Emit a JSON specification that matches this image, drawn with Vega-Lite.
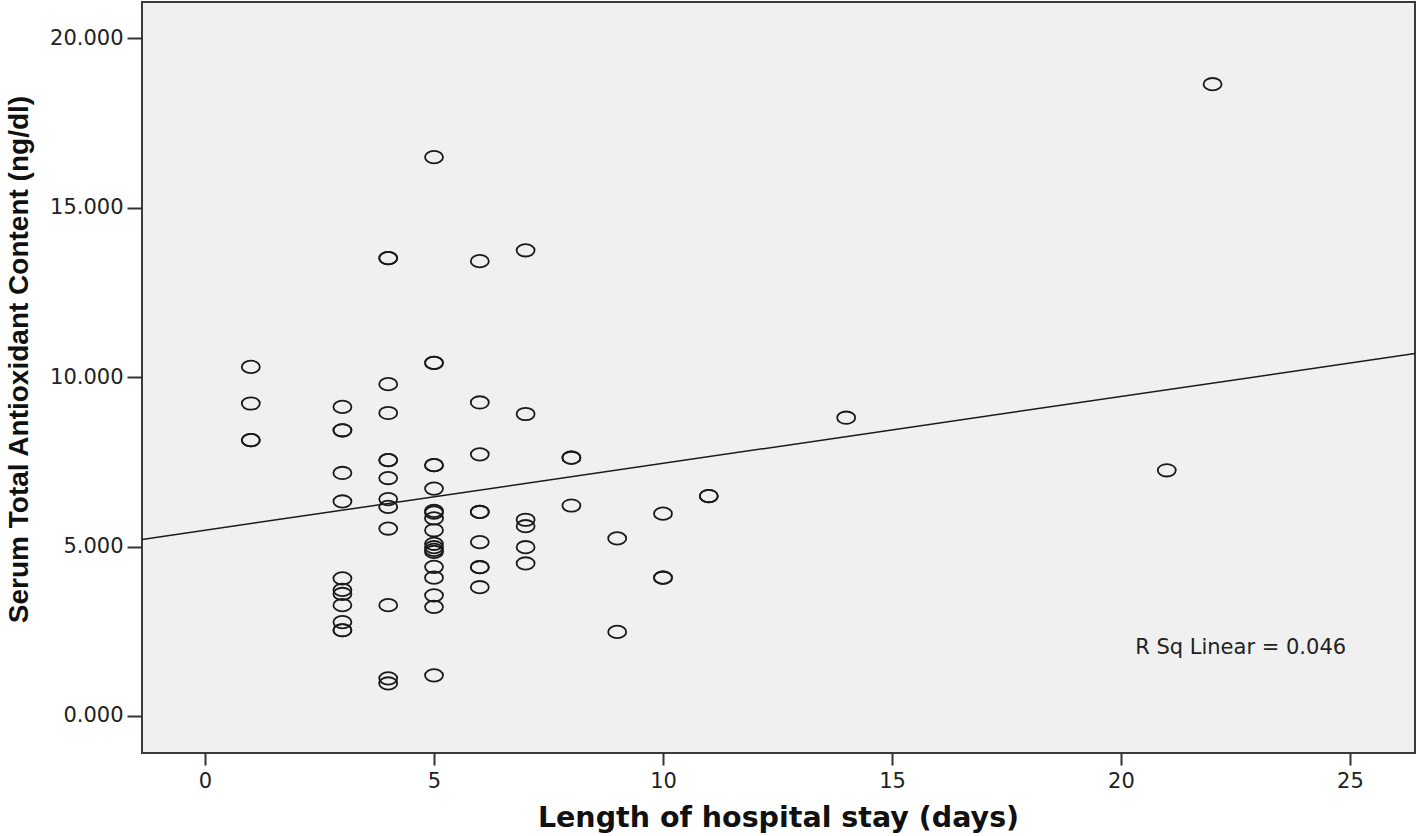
{
  "$schema": "https://vega.github.io/schema/vega-lite/v6.json",
  "width": 1273,
  "height": 751,
  "autosize": {"type": "none"},
  "padding": {"left": 142, "top": 2, "right": 3, "bottom": 83},
  "background": "white",
  "config": {
    "view": {"fill": "#f0f0f0", "stroke": "#3a3a3a", "strokeWidth": 2},
    "axis": {
      "domain": false,
      "grid": false,
      "tickColor": "#333333",
      "tickWidth": 2,
      "labelFont": "DejaVu Sans",
      "labelFontSize": 21,
      "labelColor": "#222222",
      "titleColor": "#111111"
    }
  },
  "data": {
    "values": [
      {"stay": 1, "antioxidant": 10.30}, {"stay": 1, "antioxidant": 9.22}, {"stay": 1, "antioxidant": 8.14}, {"stay": 1, "antioxidant": 8.14},
      {"stay": 3, "antioxidant": 9.12}, {"stay": 3, "antioxidant": 8.43}, {"stay": 3, "antioxidant": 8.43}, {"stay": 3, "antioxidant": 7.17},
      {"stay": 3, "antioxidant": 6.33}, {"stay": 3, "antioxidant": 4.06}, {"stay": 3, "antioxidant": 3.72}, {"stay": 3, "antioxidant": 3.60},
      {"stay": 3, "antioxidant": 3.27}, {"stay": 3, "antioxidant": 2.77}, {"stay": 3, "antioxidant": 2.53}, {"stay": 3, "antioxidant": 2.53},
      {"stay": 4, "antioxidant": 13.51}, {"stay": 4, "antioxidant": 13.51}, {"stay": 4, "antioxidant": 9.79}, {"stay": 4, "antioxidant": 8.94},
      {"stay": 4, "antioxidant": 7.55}, {"stay": 4, "antioxidant": 7.55}, {"stay": 4, "antioxidant": 7.02}, {"stay": 4, "antioxidant": 6.40},
      {"stay": 4, "antioxidant": 6.17}, {"stay": 4, "antioxidant": 5.53}, {"stay": 4, "antioxidant": 3.27}, {"stay": 4, "antioxidant": 1.11},
      {"stay": 4, "antioxidant": 0.96},
      {"stay": 5, "antioxidant": 16.49}, {"stay": 5, "antioxidant": 10.42}, {"stay": 5, "antioxidant": 10.42}, {"stay": 5, "antioxidant": 7.40},
      {"stay": 5, "antioxidant": 7.40}, {"stay": 5, "antioxidant": 6.71}, {"stay": 5, "antioxidant": 6.05}, {"stay": 5, "antioxidant": 6.00},
      {"stay": 5, "antioxidant": 5.83}, {"stay": 5, "antioxidant": 5.48}, {"stay": 5, "antioxidant": 5.08}, {"stay": 5, "antioxidant": 4.98},
      {"stay": 5, "antioxidant": 4.90}, {"stay": 5, "antioxidant": 4.84}, {"stay": 5, "antioxidant": 4.40}, {"stay": 5, "antioxidant": 4.08},
      {"stay": 5, "antioxidant": 3.56}, {"stay": 5, "antioxidant": 3.22}, {"stay": 5, "antioxidant": 1.20},
      {"stay": 6, "antioxidant": 13.42}, {"stay": 6, "antioxidant": 9.25}, {"stay": 6, "antioxidant": 7.72}, {"stay": 6, "antioxidant": 6.02},
      {"stay": 6, "antioxidant": 6.02}, {"stay": 6, "antioxidant": 5.13}, {"stay": 6, "antioxidant": 4.39}, {"stay": 6, "antioxidant": 4.39},
      {"stay": 6, "antioxidant": 3.80},
      {"stay": 7, "antioxidant": 13.74}, {"stay": 7, "antioxidant": 8.91}, {"stay": 7, "antioxidant": 5.79}, {"stay": 7, "antioxidant": 5.60},
      {"stay": 7, "antioxidant": 4.98}, {"stay": 7, "antioxidant": 4.50},
      {"stay": 8, "antioxidant": 7.62}, {"stay": 8, "antioxidant": 7.62}, {"stay": 8, "antioxidant": 6.21},
      {"stay": 9, "antioxidant": 5.24}, {"stay": 9, "antioxidant": 2.48},
      {"stay": 10, "antioxidant": 5.97}, {"stay": 10, "antioxidant": 4.08}, {"stay": 10, "antioxidant": 4.08},
      {"stay": 11, "antioxidant": 6.49}, {"stay": 11, "antioxidant": 6.49},
      {"stay": 14, "antioxidant": 8.80},
      {"stay": 21, "antioxidant": 7.25},
      {"stay": 22, "antioxidant": 18.64}
    ]
  },
  "encoding": {
    "x": {
      "field": "stay",
      "type": "quantitative",
      "scale": {"domain": [-1.376, 26.42], "nice": false, "zero": false},
      "axis": {
        "values": [0, 5, 10, 15, 20, 25],
        "format": "d",
        "tickSize": 12,
        "labelPadding": 5,
        "title": "Length of hospital stay (days)",
        "titleFont": "DejaVu Sans",
        "titleFontWeight": "bold",
        "titleFontSize": 28.5,
        "titleBaseline": "alphabetic",
        "titleAlign": "center",
        "titleX": 636,
        "titleY": 73
      }
    },
    "y": {
      "field": "antioxidant",
      "type": "quantitative",
      "scale": {"domain": [-1.092, 21.066], "nice": false, "zero": false},
      "axis": {
        "values": [0, 5, 10, 15, 20],
        "format": ".3f",
        "tickSize": 15,
        "labelPadding": 4,
        "title": "Serum Total Antioxidant Content (ng/dl)",
        "titleFont": "Liberation Sans",
        "titleFontWeight": "bold",
        "titleFontSize": 28,
        "titleAngle": 270,
        "titleBaseline": "alphabetic",
        "titleAlign": "center",
        "titleX": -115,
        "titleY": 357
      }
    }
  },
  "layer": [
    {
      "mark": {
        "type": "point",
        "shape": "M-1,0A1,0.69,0,1,1,1,0A1,0.69,0,1,1,-1,0Z",
        "size": 324,
        "filled": false,
        "stroke": "#1a1a1a",
        "strokeWidth": 1.8,
        "opacity": 1
      }
    },
    {
      "transform": [{"regression": "antioxidant", "on": "stay", "extent": [-1.376, 26.42]}],
      "mark": {"type": "line", "color": "#1a1a1a", "strokeWidth": 1.5, "clip": true}
    },
    {
      "data": {"values": [{"stay": 20.31, "antioxidant": 2.0, "label": "R Sq Linear = 0.046"}]},
      "mark": {"type": "text", "align": "left", "baseline": "middle", "font": "DejaVu Sans", "fontSize": 21, "color": "#222222"},
      "encoding": {"text": {"field": "label", "type": "nominal"}}
    }
  ]
}
